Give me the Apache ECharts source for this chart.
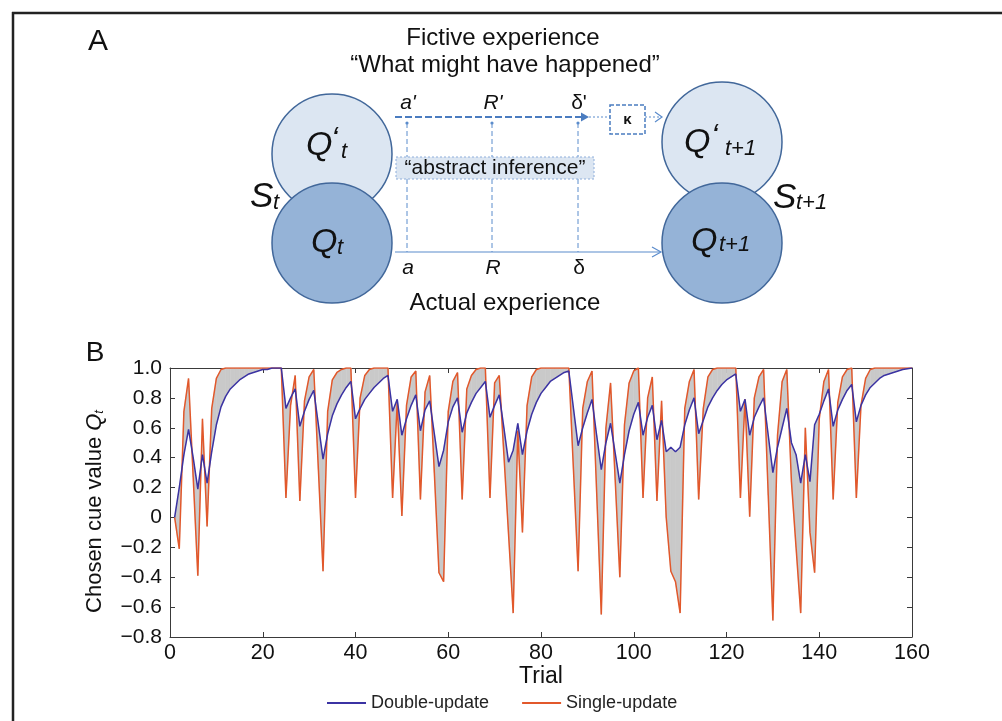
<!DOCTYPE html>
<html>
<head>
<meta charset="utf-8">
<script src="https://cdn.jsdelivr.net/npm/echarts@6/dist/echarts.min.js"></script>
<style>
html,body{margin:0;padding:0;background:#fff;}
#chart{width:1002px;height:721px;}
</style>
</head>
<body>
<div id="chart"></div>
<script>
// ---------------- data ----------------
const trials = [];
for (let t = 1; t <= 160; t++) trials.push(t);

const singleUpdate = [
 0, -0.21, 0.71, 0.93, 0.27, -0.39, 0.66, -0.06, 0.73, 0.93,
 0.99, 1, 1, 1, 1, 1, 1, 1, 1, 1,
 1, 1, 1, 1, 0.13, 0.75, 0.95, 0.11, 0.78, 0.94,
 0.99, 0.32, -0.36, 0.71, 0.92, 0.97, 0.99, 1, 1, 0.13,
 0.8, 0.95, 0.99, 1, 1, 1, 1, 0.13, 0.77, 0.01,
 0.75, 0.94, 0.98, 0.12, 0.84, 0.95, 0.3, -0.37, -0.43, 0.71,
 0.91, 0.97, 0.12, 0.86, 0.95, 0.99, 1, 1, 0.13, 0.9,
 0.95, 0.42, -0.11, -0.64, 0.58, -0.1, 0.75, 0.94, 0.99, 1,
 1, 1, 1, 1, 1, 1, 0.32, -0.36, 0.73, 0.91,
 0.98, 0.17, -0.65, 0.6, 0.9, 0.25, -0.4, 0.62, 0.9, 0.98,
 1, 0.13, 0.8, 0.94, 0.11, 0.78, 0.0, -0.36, -0.43, -0.64,
 0.73, 0.91, 0.99, 0.12, 0.73, 0.94, 0.99, 1, 1, 1,
 1, 1, 0.13, 0.79, 0.005, 0.8, 0.94, 0.99, 0.15, -0.69,
 0.55, 0.91, 0.99, 0.24, -0.2, -0.64, 0.6, -0.1, -0.37, 0.66,
 0.91, 0.99, 0.12, 0.77, 0.94, 0.99, 1, 0.13, 0.75, 0.93,
 0.99, 1, 1, 1, 1, 1, 1, 1, 1, 1
];
const doubleUpdate = [
 0, 0.2, 0.42, 0.59, 0.4, 0.19, 0.42, 0.23, 0.44, 0.62,
 0.74, 0.81, 0.86, 0.89, 0.92, 0.94, 0.96, 0.97, 0.98, 0.99,
 0.99, 1, 1, 1, 0.73, 0.8, 0.86, 0.61, 0.71, 0.79,
 0.85, 0.62, 0.39, 0.56, 0.68, 0.76, 0.82, 0.87, 0.91, 0.66,
 0.73, 0.79, 0.83, 0.87, 0.9, 0.93, 0.95, 0.71, 0.79, 0.55,
 0.66, 0.75, 0.82, 0.58, 0.72, 0.78, 0.56, 0.34, 0.45, 0.64,
 0.74, 0.8, 0.57, 0.7, 0.77, 0.83, 0.87, 0.91, 0.67, 0.75,
 0.82, 0.6, 0.37, 0.45, 0.63, 0.42, 0.58, 0.69, 0.77, 0.83,
 0.87, 0.91, 0.93, 0.95, 0.97, 0.98, 0.73, 0.48, 0.6, 0.7,
 0.79, 0.55, 0.32, 0.5, 0.63, 0.43, 0.23, 0.42, 0.58, 0.69,
 0.77, 0.55, 0.67, 0.75, 0.52, 0.65, 0.44, 0.47, 0.44, 0.47,
 0.62, 0.72, 0.8, 0.56, 0.65, 0.74, 0.8, 0.85, 0.89, 0.92,
 0.94, 0.96, 0.71, 0.79, 0.55, 0.67, 0.74, 0.8, 0.55, 0.3,
 0.47, 0.6, 0.73, 0.5, 0.42, 0.23, 0.42, 0.24, 0.62, 0.69,
 0.78, 0.86, 0.61, 0.72, 0.79, 0.85, 0.89, 0.64, 0.75, 0.82,
 0.87, 0.9, 0.93, 0.95, 0.96, 0.97, 0.98, 0.99, 0.995, 1
];
const xTicks = [0, 20, 40, 60, 80, 100, 120, 140, 160];
const yTicks = [-0.8, -0.6, -0.4, -0.2, 0, 0.2, 0.4, 0.6, 0.8, 1.0];
const seriesNames = ['Double-update', 'Single-update'];

// ---------------- chart ----------------
const FONT = '"Liberation Sans", Arial, Helvetica, sans-serif';
const BLUE = '#3b33a3';
const ORANGE = '#e2582b';
const DIAG_STROKE = '#41679a';
const LINE_BLUE = '#5b8ccc';

const fillData = trials.map((t, i) => [t, doubleUpdate[i], singleUpdate[i]]);

function yFmt(v) {
  if (Math.abs(v) < 1e-9) return '0';
  if (v < 0) return '\u2212' + Math.abs(v).toFixed(1);
  return v.toFixed(1);
}

const axisCommon = {
  type: 'value',
  axisLine: { show: true, onZero: false, lineStyle: { color: '#3a3a3a', width: 1 } },
  axisTick: { show: true, inside: true, length: 5, lineStyle: { color: '#3a3a3a' } },
  splitLine: { show: false }
};

// diagram helpers
function txt(x, y, s, size, opts) {
  opts = opts || {};
  return {
    type: 'text', x: x, y: y, z: 20,
    style: {
      text: s, fill: opts.fill || '#111',
      font: (opts.italic ? 'italic ' : '') + (opts.bold ? 'bold ' : '') + size + 'px ' + FONT,
      align: opts.align || 'center', verticalAlign: opts.va || 'middle'
    }
  };
}
function line(x1, y1, x2, y2, st, z) {
  return { type: 'line', z: z || 5, shape: { x1: x1, y1: y1, x2: x2, y2: y2 }, style: st };
}

const diag = [];
// frame
diag.push(line(13, 12, 13, 721, { stroke: '#222', lineWidth: 2.5 }, 1));
diag.push(line(12, 13, 1002, 13, { stroke: '#222', lineWidth: 2.5 }, 1));
// panel letters
diag.push(txt(98, 42, 'A', 30));
diag.push(txt(95, 353, 'B', 28));
// headings
diag.push(txt(503, 38, 'Fictive experience', 24));
diag.push(txt(505, 65, '\u201cWhat might have happened\u201d', 24));
diag.push(txt(505, 303, 'Actual experience', 24));
// circles
diag.push({ type: 'circle', z: 6, shape: { cx: 332, cy: 154, r: 60 }, style: { fill: '#dce6f2', stroke: DIAG_STROKE, lineWidth: 1.5 } });
diag.push({ type: 'circle', z: 7, shape: { cx: 332, cy: 243, r: 60 }, style: { fill: '#95b3d7', stroke: DIAG_STROKE, lineWidth: 1.5 } });
diag.push({ type: 'circle', z: 6, shape: { cx: 722, cy: 142, r: 60 }, style: { fill: '#dce6f2', stroke: DIAG_STROKE, lineWidth: 1.5 } });
diag.push({ type: 'circle', z: 7, shape: { cx: 722, cy: 243, r: 60 }, style: { fill: '#95b3d7', stroke: DIAG_STROKE, lineWidth: 1.5 } });
// circle labels
diag.push(txt(306, 146, 'Q', 34, { italic: true, align: 'left' }));
diag.push(txt(331, 140, '\u2018', 32, { italic: true, align: 'left' }));
diag.push(txt(341, 152, 't', 22, { italic: true, align: 'left' }));
diag.push(txt(311, 243, 'Q', 34, { italic: true, align: 'left' }));
diag.push(txt(337, 248, 't', 22, { italic: true, align: 'left' }));
diag.push(txt(250, 197, 'S', 35, { italic: true, align: 'left' }));
diag.push(txt(273, 203, 't', 22, { italic: true, align: 'left' }));
diag.push(txt(684, 143, 'Q', 34, { italic: true, align: 'left' }));
diag.push(txt(711, 137, '\u2018', 32, { italic: true, align: 'left' }));
diag.push(txt(725, 149, 't+1', 22, { italic: true, align: 'left' }));
diag.push(txt(691, 242, 'Q', 34, { italic: true, align: 'left' }));
diag.push(txt(719, 245, 't+1', 22, { italic: true, align: 'left' }));
diag.push(txt(773, 198, 'S', 35, { italic: true, align: 'left' }));
diag.push(txt(796, 203, 't+1', 22, { italic: true, align: 'left' }));
// experience labels
diag.push(txt(408, 103, "a'", 21, { italic: true }));
diag.push(txt(493, 103, "R'", 21, { italic: true }));
diag.push(txt(579, 103, "\u03b4'", 21));
diag.push(txt(408, 268, 'a', 21, { italic: true }));
diag.push(txt(493, 268, 'R', 21, { italic: true }));
diag.push(txt(579, 268, '\u03b4', 21));
// vertical dashed connectors
[407, 492, 578].forEach(function (x) {
  diag.push(line(x, 123, x, 252, { stroke: LINE_BLUE, lineWidth: 1, lineDash: [5, 3] }, 4));
  diag.push({ type: 'circle', z: 4, shape: { cx: x, cy: 123, r: 1.6 }, style: { fill: LINE_BLUE } });
});
// top dashed arrow (fictive)
diag.push(line(395, 117, 583, 117, { stroke: '#4a7cc0', lineWidth: 2, lineDash: [7, 3] }, 5));
diag.push({ type: 'polygon', z: 5, shape: { points: [[581, 112.5], [589, 117], [581, 121.5]] }, style: { fill: '#4a7cc0' } });
diag.push(line(589, 117, 610, 117, { stroke: LINE_BLUE, lineWidth: 1, lineDash: [2, 2] }, 5));
diag.push({ type: 'rect', z: 5, shape: { x: 610, y: 105, width: 35, height: 29 }, style: { fill: '#fff', stroke: '#4a7cc0', lineWidth: 1.5, lineDash: [4, 2] } });
diag.push(txt(627.5, 120, '\u03ba', 15, { bold: true }));
diag.push(line(645, 117, 661, 117, { stroke: LINE_BLUE, lineWidth: 1, lineDash: [2, 2] }, 5));
diag.push({ type: 'polyline', z: 5, shape: { points: [[655, 112], [662, 117], [655, 122]] }, style: { stroke: LINE_BLUE, lineWidth: 1.2, fill: null } });
// bottom solid arrow (actual)
diag.push(line(395, 252, 660, 252, { stroke: LINE_BLUE, lineWidth: 1.2 }, 5));
diag.push({ type: 'polyline', z: 5, shape: { points: [[652, 247], [661, 252], [652, 257]] }, style: { stroke: LINE_BLUE, lineWidth: 1.2, fill: null } });
// abstract inference box
diag.push({ type: 'rect', z: 8, shape: { x: 396, y: 157, width: 198, height: 22 }, style: { fill: '#dce6f2', stroke: '#8eaedb', lineWidth: 1, lineDash: [2, 2] } });
diag.push(txt(495, 168.5, '\u201cabstract inference\u201d', 21));

const chart = echarts.init(document.getElementById('chart'), null, { renderer: 'canvas' });
chart.setOption({
  animation: false,
  backgroundColor: '#fff',
  textStyle: { fontFamily: FONT },
  grid: { left: 170, top: 368, width: 742, height: 269, containLabel: false },
  legend: {
    data: seriesNames,
    left: 322, top: 689,
    itemWidth: 39, itemHeight: 2, itemGap: 33,
    icon: 'rect',
    textStyle: { fontSize: 18, color: '#222', fontFamily: FONT }
  },
  xAxis: [
    Object.assign({}, axisCommon, {
      min: 0, max: 160, interval: 20,
      position: 'bottom',
      name: 'Trial', nameLocation: 'middle', nameGap: 25,
      nameTextStyle: { fontSize: 23, color: '#111', fontFamily: FONT },
      axisLabel: { fontSize: 21.5, color: '#111', margin: 5, fontFamily: FONT,
        formatter: function (v) { return xTicks.indexOf(v) >= 0 ? String(v) : ''; } }
    }),
    Object.assign({}, axisCommon, {
      min: 0, max: 160, interval: 20, position: 'top', axisLabel: { show: false }
    })
  ],
  yAxis: [
    Object.assign({}, axisCommon, {
      min: -0.8, max: 1.0, interval: 0.2,
      position: 'left',
      name: 'Chosen cue value {q|Q}{s|t}', nameLocation: 'middle', nameGap: 64,
      nameTextStyle: { fontSize: 22, color: '#111', fontFamily: FONT, padding: [0, 18, 0, 0],
        rich: {
          q: { fontSize: 22, fontStyle: 'italic', color: '#111', fontFamily: FONT },
          s: { fontSize: 13, fontStyle: 'italic', color: '#111', fontFamily: FONT, padding: [10, 0, 0, 0] }
        } },
      axisLabel: { fontSize: 21, color: '#111', margin: 8, fontFamily: FONT,
        formatter: function (v) { return yFmt(v); } }
    }),
    Object.assign({}, axisCommon, {
      min: -0.8, max: 1.0, interval: 0.2, position: 'right', axisLabel: { show: false }
    })
  ],
  series: [
    {
      type: 'custom', name: 'gap', silent: true, z: 1,
      xAxisIndex: 0, yAxisIndex: 0,
      data: fillData,
      encode: { x: 0, y: [1, 2] },
      renderItem: function (params, api) {
        const i = params.dataIndex;
        if (i >= fillData.length - 1) return null;
        const nx = fillData[i + 1];
        const p1 = api.coord([api.value(0), api.value(1)]);
        const p2 = api.coord([nx[0], nx[1]]);
        const p3 = api.coord([nx[0], nx[2]]);
        const p4 = api.coord([api.value(0), api.value(2)]);
        return { type: 'polygon', shape: { points: [p1, p2, p3, p4] },
          style: { fill: '#c9c9c9', stroke: '#c9c9c9', lineWidth: 0.5 } };
      }
    },
    {
      type: 'line', name: seriesNames[1], z: 3,
      data: trials.map((t, i) => [t, singleUpdate[i]]),
      showSymbol: false, symbol: 'none',
      lineStyle: { color: ORANGE, width: 1.5 }, itemStyle: { color: ORANGE }
    },
    {
      type: 'line', name: seriesNames[0], z: 4,
      data: trials.map((t, i) => [t, doubleUpdate[i]]),
      showSymbol: false, symbol: 'none',
      lineStyle: { color: BLUE, width: 1.5 }, itemStyle: { color: BLUE }
    }
  ],
  graphic: diag
});
</script>
</body>
</html>
